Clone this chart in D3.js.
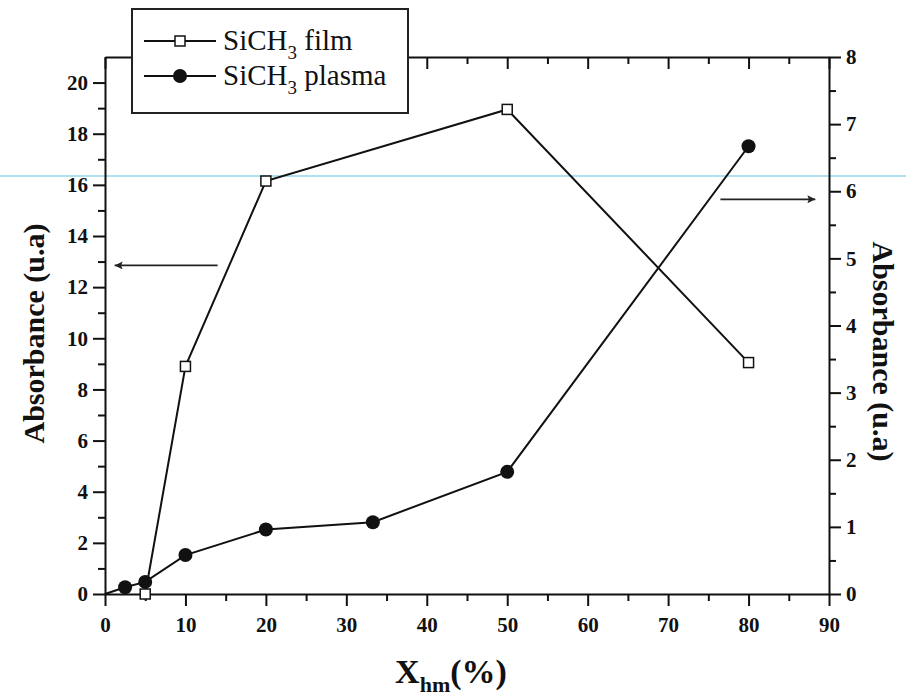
<!DOCTYPE html>
<html>
<head>
<meta charset="utf-8">
<script src="https://cdn.jsdelivr.net/npm/d3@7"></script>
</head>
<body style="margin:0">
<svg width="906" height="700"></svg>
<script>
// SiCH3 film (left axis) and SiCH3 plasma (right axis)
const filmX = [5, 10, 20, 50, 80];
const filmY = [0, 8.9, 16.15, 18.95, 9.05];
const plasmaX = [0, 2.5, 5, 10, 20, 33.3, 50, 80];
const plasmaY = [0, 0.1, 0.18, 0.58, 0.96, 1.07, 1.82, 6.67];
const xTicks = [0, 10, 20, 30, 40, 50, 60, 70, 80, 90];
const leftTicks = [0, 2, 4, 6, 8, 10, 12, 14, 16, 18, 20];
const rightTicks = [0, 1, 2, 3, 4, 5, 6, 7, 8];

const width = 906;
const height = 700;
const margin = {left: 105, right: 77, top: 57, bottom: 106};
const serif = "'Liberation Serif', 'Times New Roman', Tinos, serif";

const svg = d3.select("svg");

const x = d3.scaleLinear().domain([0, 90]).range([margin.left, width - margin.right]);
const yL = d3.scaleLinear().domain([0, 21]).range([height - margin.bottom, margin.top]);
const yR = d3.scaleLinear().domain([0, 8]).range([height - margin.bottom, margin.top]);

const film = filmX.map((d, i) => ({x: d, y: filmY[i]}));
const plasma = plasmaX.map((d, i) => ({x: d, y: plasmaY[i]}));

// faint scan line across the page
svg.append("line")
    .attr("x1", 0).attr("x2", width)
    .attr("y1", 176).attr("y2", 176)
    .attr("stroke", "#aee0ee").attr("stroke-width", 2);

function inkAxis(g) {
  g.selectAll(".domain, .tick line").attr("stroke", "#111").attr("stroke-width", 2);
}

// minor ticks first, then major axes on top
function minor(axis, scale, step, size) {
  let vals = d3.range(scale.domain()[0] + step, scale.domain()[1], step * 2);
  return axis(scale).tickValues(vals).tickSize(size).tickFormat("");
}

function styleTicks(g) {
  g.selectAll(".tick text")
      .style("font-family", serif).style("font-size", "21px").style("font-weight", "bold")
      .attr("fill", "#111");
}

const bottomY = height - margin.bottom;
const leftX = margin.left;
const rightX = width - margin.right;

[[d3.axisBottom, x, 5, `translate(0,${bottomY})`],
 [d3.axisBottom, x, 5, `translate(0,${margin.top})`],
 [d3.axisLeft, yL, 1, `translate(${leftX},0)`],
 [d3.axisRight, yR, 0.5, `translate(${rightX},0)`]].forEach(a => {
  svg.append("g").attr("transform", a[3])
      .call(minor(a[0], a[1], a[2], 7)).call(inkAxis)
      .select(".domain").remove();
});

svg.append("g").attr("transform", `translate(0,${bottomY})`)
    .call(d3.axisBottom(x).tickValues(xTicks).tickSize(12).tickSizeOuter(0).tickPadding(6))
    .call(inkAxis).call(styleTicks)
    .selectAll(".tick text").attr("dy", "0.95em");

svg.append("g").attr("transform", `translate(0,${margin.top})`)
    .call(d3.axisBottom(x).tickValues(xTicks).tickSize(12).tickSizeOuter(0).tickFormat(""))
    .call(inkAxis);

svg.append("g").attr("transform", `translate(${leftX},0)`)
    .call(d3.axisLeft(yL).tickValues(leftTicks).tickSize(12).tickSizeOuter(0).tickPadding(5))
    .call(inkAxis).call(styleTicks);

svg.append("g").attr("transform", `translate(${rightX},0)`)
    .call(d3.axisRight(yR).tickValues(rightTicks).tickSize(12).tickSizeOuter(0).tickPadding(5))
    .call(inkAxis).call(styleTicks);

// lines
const lineL = d3.line().x(d => x(d.x)).y(d => yL(d.y));
const lineR = d3.line().x(d => x(d.x)).y(d => yR(d.y));

svg.append("path").datum(plasma)
    .attr("d", lineR).attr("fill", "none").attr("stroke", "#111").attr("stroke-width", 2);
svg.append("path").datum(film)
    .attr("d", lineL).attr("fill", "none").attr("stroke", "#111").attr("stroke-width", 2);

svg.append("g").selectAll("circle")
    .data(plasma.filter(d => d.x > 0))
    .enter().append("circle")
    .attr("cx", d => x(d.x)).attr("cy", d => yR(d.y)).attr("r", 7)
    .attr("fill", "#111");

const sq = 10;
svg.append("g").selectAll("rect")
    .data(film)
    .enter().append("rect")
    .attr("x", d => x(d.x) - sq / 2).attr("y", d => yL(d.y) - sq / 2)
    .attr("width", sq).attr("height", sq)
    .attr("fill", "#fff").attr("stroke", "#111").attr("stroke-width", 1.5);

// arrows pointing at the axes
const defs = svg.append("defs");
defs.append("marker")
    .attr("id", "arrow").attr("viewBox", "0 0 10 10")
    .attr("refX", 10).attr("refY", 5)
    .attr("markerWidth", 14).attr("markerHeight", 8)
    .attr("markerUnits", "userSpaceOnUse")
    .attr("orient", "auto")
  .append("path").attr("d", "M0,0 L10,5 L0,10 L2,5 Z").attr("fill", "#222");

svg.append("line")
    .attr("x1", x(14)).attr("x2", x(1.2))
    .attr("y1", yL(12.85)).attr("y2", yL(12.85))
    .attr("stroke", "#222").attr("stroke-width", 1.8)
    .attr("marker-end", "url(#arrow)");
svg.append("line")
    .attr("x1", x(76.5)).attr("x2", x(88.3))
    .attr("y1", yR(5.88)).attr("y2", yR(5.88))
    .attr("stroke", "#222").attr("stroke-width", 1.8)
    .attr("marker-end", "url(#arrow)");

// legend
const legend = svg.append("g");
legend.append("rect")
    .attr("x", 132).attr("y", 9).attr("width", 276).attr("height", 104)
    .attr("fill", "#fff").attr("stroke", "#222").attr("stroke-width", 2);

const legendRows = [
  {label: "film", y: 41, shape: "square"},
  {label: "plasma", y: 76, shape: "circle"}
];
legendRows.forEach(r => {
  legend.append("line").attr("x1", 144).attr("x2", 216).attr("y1", r.y).attr("y2", r.y)
      .attr("stroke", "#111").attr("stroke-width", 2);
  if (r.shape === "square") {
    legend.append("rect").attr("x", 175).attr("y", r.y - 5).attr("width", 10).attr("height", 10)
        .attr("fill", "#fff").attr("stroke", "#111").attr("stroke-width", 1.5);
  } else {
    legend.append("circle").attr("cx", 180).attr("cy", r.y).attr("r", 7).attr("fill", "#111");
  }
  let t = legend.append("text")
      .attr("x", 223).attr("y", r.y + 9)
      .style("font-family", serif)
      .style("font-size", "29px").attr("fill", "#111");
  t.append("tspan").text("SiCH");
  t.append("tspan").text("3").style("font-size", "19px").attr("dy", 9);
  t.append("tspan").text(" " + r.label).attr("dy", -9);
});

// axis titles
svg.append("text")
    .attr("transform", `translate(44,${(margin.top + bottomY) / 2 + 8}) rotate(-90)`)
    .attr("text-anchor", "middle")
    .style("font-family", serif)
    .style("font-weight", "bold").style("font-size", "30px").attr("fill", "#111")
    .text("Absorbance (u.a)");

svg.append("text")
    .attr("transform", `translate(873,${(margin.top + bottomY) / 2 + 26}) rotate(90)`)
    .attr("text-anchor", "middle")
    .style("font-family", serif)
    .style("font-weight", "bold").style("font-size", "30px").attr("fill", "#111")
    .text("Absorbance (u.a)");

const xt = svg.append("text")
    .attr("x", 451).attr("y", 683)
    .attr("text-anchor", "middle")
    .style("font-family", serif)
    .style("font-weight", "bold").style("font-size", "34px").attr("fill", "#111");
xt.append("tspan").text("X");
xt.append("tspan").text("hm").style("font-size", "22px").attr("dy", 9);
xt.append("tspan").text("(%)").attr("dy", -9);
</script>
</body>
</html>
